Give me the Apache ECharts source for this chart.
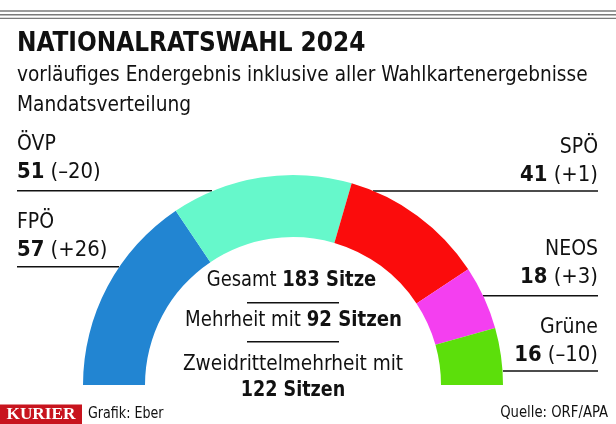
<!DOCTYPE html>
<html>
<head>
<meta charset="utf-8">
<script src="https://cdn.jsdelivr.net/npm/echarts@6/dist/echarts.min.js"></script>
<style>
html,body{margin:0;padding:0;background:#fff;}
#c{width:616px;height:424px;}
</style>
</head>
<body>
<div id="c"></div>
<script>
// ---- data ----
const parties = ['FPÖ', 'ÖVP', 'SPÖ', 'NEOS', 'Grüne'];
const seats = [57, 51, 41, 18, 16];
const changes = ['+26', '–20', '+1', '+3', '–10'];
const colors = ['#2285d2', '#66f8cb', '#fb0c0c', '#f43ff0', '#5cdf0b'];
const majority = 92;
const twoThirds = 122;

const FONT = "'DejaVu Sans Condensed', 'Liberation Sans', sans-serif";
const total = seats.reduce((a, b) => a + b, 0);

const chart = echarts.init(document.getElementById('c'), null, {renderer: 'canvas'});

function txt(text, x, y, size, align, bold, rich, sx) {
  return {
    type: 'text', silent: true, x: x, y: y, scaleX: sx || 1,
    style: {
      text: text, x: 0, y: 0, fill: '#111',
      font: (bold ? 'bold ' : '') + size + 'px ' + FONT,
      align: align, verticalAlign: 'middle',
      rich: rich
    }
  };
}
function line(x1, y1, x2, y2, color, w) {
  return {
    type: 'line', silent: true,
    shape: {x1: x1, y1: y1, x2: x2, y2: y2},
    style: {stroke: color || '#111', lineWidth: w || 1.5}
  };
}
const richLbl = {
  b: {fontFamily: FONT, fontSize: 21, fontWeight: 'bold', fill: '#111'},
  r: {fontFamily: FONT, fontSize: 21, fill: '#111'}
};
function partyLabel(i, x, y, align) {
  return [
    txt(parties[i], x, y, 21, align, false),
    txt('{b|' + seats[i] + '}{r| (' + changes[i] + ')}', x, y + 28.3, 21, align, false, richLbl, 1.04)
  ];
}

const graphics = [
  line(0, 11, 616, 11, '#7a7a7a', 1.4),
  line(0, 14.7, 616, 14.7, '#7a7a7a', 1.4),
  line(0, 18.4, 616, 18.4, '#7a7a7a', 1.4),
  txt('NATIONALRATSWAHL 2024', 17, 44.2, 26, 'left', true, null, 0.995),
  txt('vorläufiges Endergebnis inklusive aller Wahlkartenergebnisse', 17, 75.6, 22, 'left', false, null, 0.937),
  txt('Mandatsverteilung', 17, 105.3, 22, 'left', false, null, 0.94),
  ...partyLabel(1, 17, 144.3, 'left'),
  ...partyLabel(0, 17, 222.6, 'left'),
  ...partyLabel(2, 598, 147.6, 'right'),
  ...partyLabel(3, 598, 249.3, 'right'),
  ...partyLabel(4, 598, 327.6, 'right'),
  line(17, 190.7, 212, 190.7),
  line(373, 191, 598, 191),
  line(17, 266.7, 119, 266.7),
  line(483, 295.7, 598, 295.7),
  line(503, 371, 598, 371),
  line(247, 302.7, 339, 302.7),
  line(247, 341.7, 339, 341.7),
  txt('{r|Gesamt }{b|' + total + ' Sitze}', 291.5, 280.6, 21, 'center', false, richLbl, 0.95),
  txt('{r|Mehrheit mit }{b|' + majority + ' Sitzen}', 293.5, 320.6, 21, 'center', false, richLbl, 0.96),
  txt('Zweidrittelmehrheit mit', 293, 364.3, 21, 'center', false, null, 0.98),
  txt(twoThirds + ' Sitzen', 293, 390.6, 21, 'center', true, null, 0.93),
  {type: 'rect', silent: true, shape: {x: 0, y: 404.5, width: 82, height: 19.5}, style: {fill: '#c8141e'}},
  {type: 'text', silent: true, x: 41, y: 415, scaleX: 1.08,
    style: {text: 'KURIER', x: 0, y: 0, fill: '#fff',
    font: 'bold 16px "Liberation Serif", "DejaVu Serif", serif', align: 'center', verticalAlign: 'middle'}},
  txt('Grafik: Eber', 88, 414, 15, 'left', false, null, 0.94),
  txt('Quelle: ORF/APA', 608, 413, 15, 'right', false, null, 0.98)
];

chart.setOption({
  animation: false,
  backgroundColor: '#fff',
  series: [{
    type: 'pie',
    silent: true,
    center: [293, 385],
    radius: [148, 210],
    startAngle: 180,
    endAngle: 0,
    clockwise: true,
    label: {show: false},
    labelLine: {show: false},
    itemStyle: {borderWidth: 0},
    data: parties.map((p, i) => ({name: p, value: seats[i], itemStyle: {color: colors[i]}}))
  }],
  graphic: graphics
});
</script>
</body>
</html>
